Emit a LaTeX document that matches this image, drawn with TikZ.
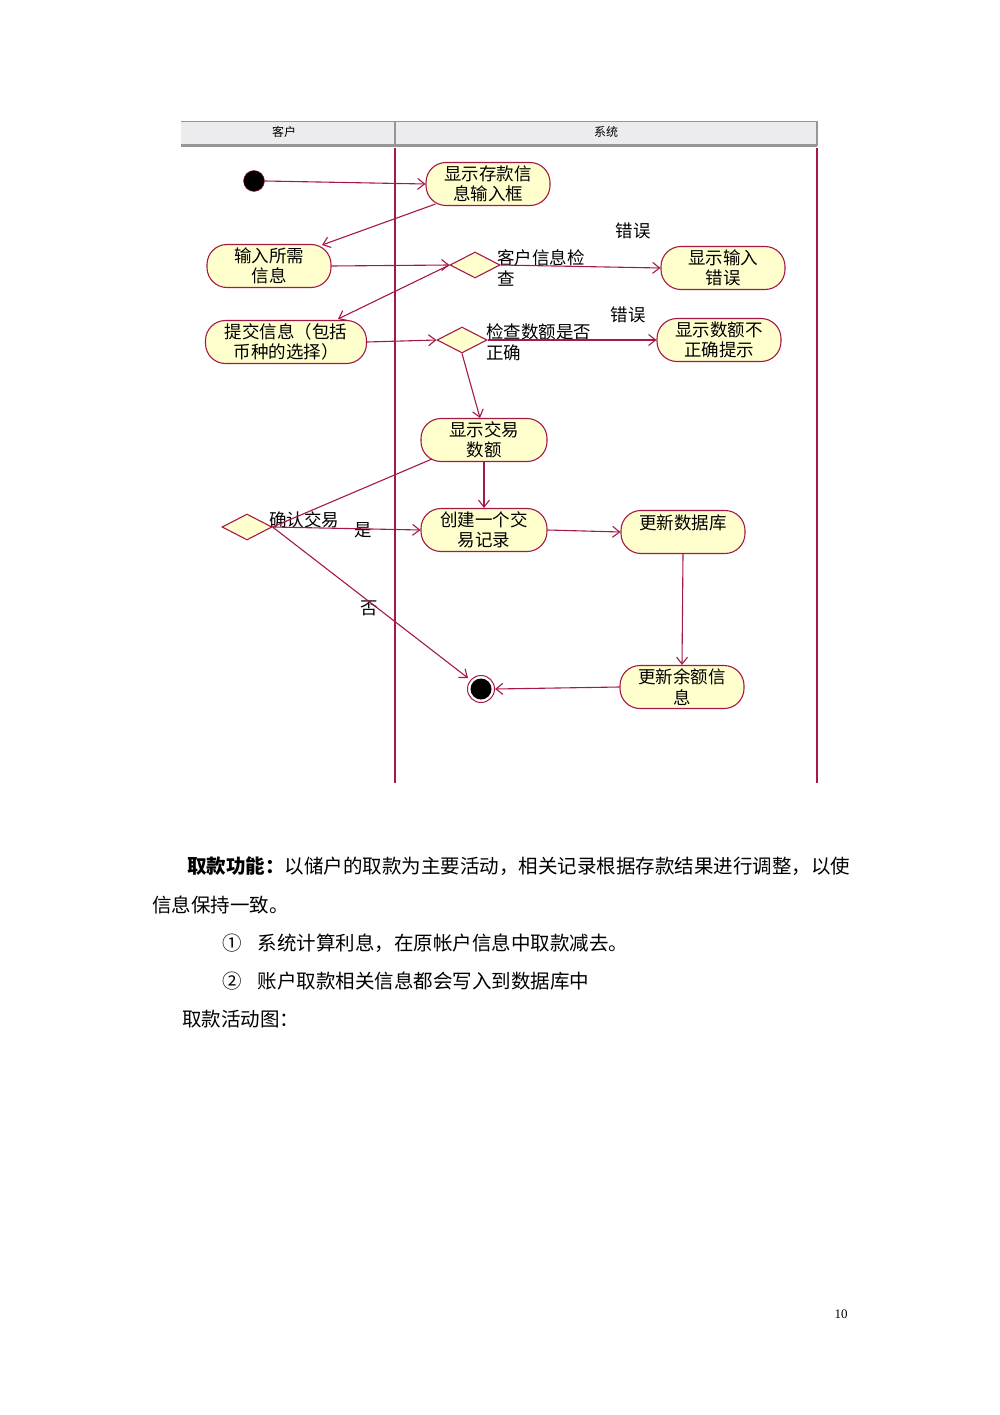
\documentclass[tikz,border=0pt]{standalone}
\usepackage{fontspec}
\setmainfont{Liberation Serif}
\newfontfamily\cjk{Noto Sans CJK SC}
\usetikzlibrary{shapes.geometric,arrows.meta}
\definecolor{umlline}{RGB}{165,25,70}
\definecolor{umlfill}{RGB}{255,255,206}
\definecolor{hdrfill}{RGB}{236,236,238}
\definecolor{hdrline}{RGB}{150,150,150}
\begin{document}
\begin{tikzpicture}[x=1pt,y=-1pt,
  act/.style={draw=umlline,fill=umlfill,line width=1.1pt,rounded corners=20pt,
    minimum width=124pt,minimum height=43pt,inner sep=0pt,align=center,
    font=\cjk\fontsize{17.5}{20.5}\selectfont},
  dec/.style={draw=umlline,fill=umlfill,line width=1.1pt,shape=diamond,
    minimum width=50pt,minimum height=26pt,inner sep=0pt},
  lbl/.style={font=\cjk\fontsize{17.5}{21.5}\selectfont,inner sep=0pt,align=left},
  flow/.style={draw=umlline,line width=1.1pt,-{Straight Barb[length=7pt,width=11pt,line width=1.1pt]}},
  plain/.style={draw=umlline,line width=1.1pt},
  body/.style={font=\cjk\fontsize{19.5}{24}\selectfont,inner sep=0pt,anchor=base west}]
\useasboundingbox[fill=white] (0,0) rectangle (1000,1415);
% header
\fill[hdrfill] (181,121) rectangle (817,145);
\draw[hdrline,line width=0.8pt] (181,121) -- (817,121);
\draw[hdrline,line width=3pt] (181,146) -- (817,146);
\draw[hdrline,line width=1.5pt] (395,121) -- (395,145);
\draw[hdrline,line width=1.5pt] (817,121) -- (817,146);
\node[font=\cjk\fontsize{12}{13}\selectfont] (hc) at (284,132) {客户};
\node[font=\cjk\fontsize{12}{13}\selectfont] (hs) at (606,132) {系统};
% swimlane lines
\draw[umlline,line width=1.3pt] (395,148) -- (395,783);
\draw[umlline,line width=1.3pt] (817,148) -- (817,783);
% nodes
\node[circle,fill=black,draw=umlline,minimum size=21pt,inner sep=0pt] (start) at (254,181) {};
\node[act] (a1) at (488,184) {显示存款信\\息输入框};
\node[act] (a2) at (269,266) {输入所需\\信息};
\node[dec] (d1) at (475,265) {};
\node[act] (a3) at (723,268) {显示输入\\错误};
\node[act,minimum width=161pt] (a4) at (286,342) {提交信息（包括\\币种的选择）};
\node[dec] (d2) at (462,340) {};
\node[act] (a5) at (719,340) {显示数额不\\正确提示};
\node[act,minimum width=126pt] (a6) at (484,440) {显示交易\\数额};
\node[act,minimum width=126pt] (a7) at (484,530) {创建一个交\\易记录};
\node[dec] (d3) at (247,527) {};
\node[act] (a8) at (683,532) {更新数据库\\\mbox{}};
\node[act] (a9) at (682,687) {更新余额信\\息};
\node[circle,draw=umlline,fill=white,line width=1pt,minimum size=27pt,inner sep=0pt] (end) at (481,689) {};
\fill[black] (end.center) circle (10.5);
% labels
\node[lbl,anchor=north west] (l1) at (497,249) {客户信息检\\查};
\node[lbl] (e1) at (633,231) {错误};
\node[lbl,anchor=north west] (l2) at (486,323) {检查数额是否\\正确};
\node[lbl] (e2) at (628,315) {错误};
\node[lbl] (l3) at (304,520) {确认交易};
\node[lbl] (yes) at (363,530) {是};
\node[lbl] (no) at (369,608) {否};
% connectors
\draw[flow] (start.east) -- (a1.west);
\draw[flow] (a1.south west) ++(10,-2) coordinate (a1o) -- (322,245) coordinate (a2i);
\draw[flow] (a2.east) -- (d1.west);
\draw[flow] (d1.east) -- (a3.west);
\draw[flow] (d1.west) -- (338,319) coordinate (a4i);
\draw[flow] (a4.east) -- (d2.west);
\draw[flow] (d2.east) -- (a5.west);
\draw[flow] (d2.south) -- (480,418) coordinate (a6i);
\draw[flow] (a6.south) -- (a7.north);
\draw[plain] (432,459) coordinate (a6o) -- (d3.east);
\draw[flow] (d3.east) -- (a7.west);
\draw[flow] (d3.east) -- (468,678) coordinate (endi);
\draw[flow] (a7.east) -- (a8.west);
\draw[flow] (a8.south) -- (a9.north);
\draw[flow] (a9.west) -- (end.east);
% body text
\node[body] (t1) at (187,873) {\textbf{取款功能：}以储户的取款为主要活动，相关记录根据存款结果进行调整，以使};
\node[body] (t2) at (152,912) {信息保持一致。};
\node[body] (t3) at (222,950) {①\hspace{16pt}系统计算利息，在原帐户信息中取款减去。};
\node[body] (t4) at (222,988) {②\hspace{16pt}账户取款相关信息都会写入到数据库中};
\node[body] (t5) at (182,1026) {取款活动图：};
\node[font=\fontsize{13}{15}\selectfont,inner sep=0pt] (pg) at (841,1314) {10};
\end{tikzpicture}
\end{document}
